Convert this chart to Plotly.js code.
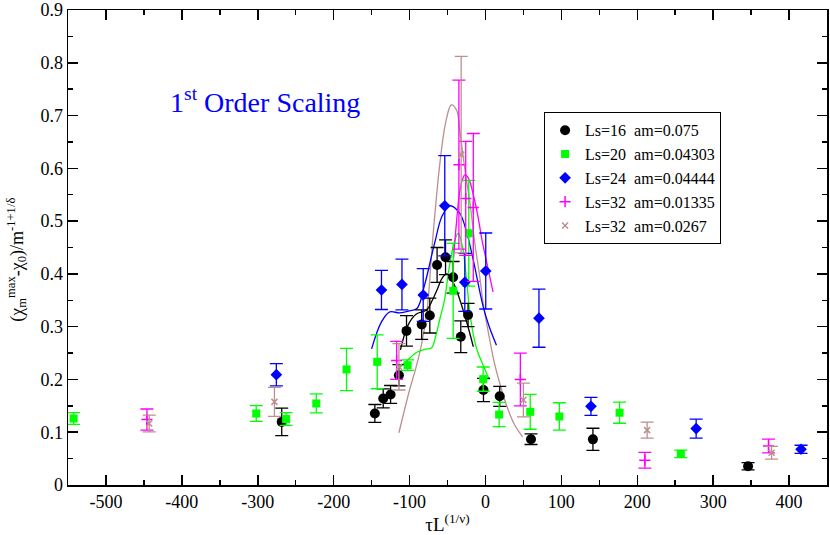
<!DOCTYPE html>
<html>
<head>
<meta charset="utf-8">
<script src="https://cdn.plot.ly/plotly-3.0.1.min.js"></script>
<style>html,body{margin:0;padding:0;background:#fff;}#plot{width:830px;height:535px;}</style>
</head>
<body>
<div id="plot"></div>
<script>
// ---- data ----
const blackX = [-268.4, -145.7, -134.7, -125, -114, -104, -84, -73.3, -63.7, -52.6, -42.6, -32.5, -22.9, -2.6, 18.8, 60, 141.6, 346];
const blackY = [0.1196, 0.1355, 0.164, 0.1715, 0.208, 0.292, 0.304, 0.321, 0.417, 0.4315, 0.3935, 0.281, 0.322, 0.180, 0.168, 0.0867, 0.0865, 0.0355];
const blackErr = [0.026, 0.017, 0.018, 0.017, 0.02, 0.029, 0.028, 0.033, 0.033, 0.033, 0.03, 0.03, 0.022, 0.022, 0.019, 0.01, 0.021, 0.007];

const greenX = [-542.6, -302, -262.6, -222.9, -183, -142.6, -102.6, -42.5, -22, -3, 18, 59, 97.4, 176.7, 257.4];
const greenY = [0.126, 0.1355, 0.125, 0.1545, 0.219, 0.2334, 0.227, 0.368, 0.477, 0.2006, 0.1335, 0.1386, 0.1298, 0.137, 0.059];
const greenErr = [0.011, 0.015, 0.012, 0.018, 0.04, 0.051, 0.01, 0.09, 0.1, 0.023, 0.023, 0.033, 0.026, 0.02, 0.007];

const blueX = [-275.5, -137, -110, -82, -53.6, -27.2, 0.4, 70.5, 139, 277.6, 415.8];
const blueY = [0.209, 0.3695, 0.38, 0.36, 0.529, 0.384, 0.4055, 0.316, 0.149, 0.107, 0.0677];
const blueErr = [0.021, 0.037, 0.048, 0.05, 0.095, 0.055, 0.072, 0.055, 0.017, 0.018, 0.0076];

const magX = [-446, -117, -35, -26, -16, 46, 210, 373];
const magY = [0.124, 0.236, 0.607, 0.543, 0.526, 0.200, 0.047, 0.074];
const magErr = [0.02, 0.036, 0.16, 0.108, 0.14, 0.05, 0.015, 0.013];

const brnX = [-443, -278, -114, -32, 50, 213, 377];
const brnY = [0.1165, 0.1575, 0.224, 0.626, 0.161, 0.104, 0.061];
const brnErr = [0.016, 0.0275, 0.044, 0.186, 0.032, 0.015, 0.012];

// fitted curves
const blackFitX = [-112, -102, -91, -78, -70, -64, -57, -51, -42, -34, -24, -16];
const blackFitY = [0.256, 0.303, 0.324, 0.331, 0.350, 0.369, 0.392, 0.400, 0.382, 0.352, 0.305, 0.262];
const greenFitX = [-115, -100, -91, -80, -71, -65, -60, -54, -48, -42, -36, -30, -25, -20, -12, -3, 5];
const greenFitY = [0.220, 0.240, 0.251, 0.257, 0.260, 0.285, 0.315, 0.350, 0.410, 0.455, 0.477, 0.450, 0.390, 0.320, 0.260, 0.227, 0.200];
const blueFitX = [-150, -137, -126, -113, -100, -90, -80, -67, -57, -47, -34, -25, -16, -3, 5, 14.5];
const blueFitY = [0.258, 0.309, 0.328, 0.326, 0.330, 0.335, 0.380, 0.458, 0.510, 0.529, 0.515, 0.480, 0.426, 0.338, 0.300, 0.265];
const magFitX = [-42, -38, -34, -30, -27, -22, -16, -10, -4, 2, 10];
const magFitY = [0.43, 0.50, 0.555, 0.580, 0.588, 0.580, 0.550, 0.510, 0.460, 0.420, 0.366];
const brnFitX = [-114, -100, -92, -84, -77, -69, -60, -52, -45, -38, -34, -27, -20, -14, -8, -3, 5, 12, 19, 28, 38, 49];
const brnFitY = [0.099, 0.18, 0.22, 0.268, 0.33, 0.474, 0.61, 0.69, 0.72, 0.71, 0.673, 0.597, 0.53, 0.458, 0.40, 0.344, 0.28, 0.23, 0.192, 0.15, 0.115, 0.091];

const names = ['Ls=16  am=0.075', 'Ls=20  am=0.04303', 'Ls=24  am=0.04444', 'Ls=32  am=0.01335', 'Ls=32  am=0.0267'];
const xTickVals = [-500, -400, -300, -200, -100, 0, 100, 200, 300, 400];
const xTickText = ['-500', '-400', '-300', '-200', '-100', '0', '100', '200', '300', '400'];

// ---- styles ----
const SERIF = 'Liberation Serif, Times New Roman, DejaVu Serif, serif';
const cBlack = '#000000', cGreen = '#00ff00', cBlue = '#0000ff', cMag = '#ff00ff', cBrn = '#bc8f8f';

function fit(x, y, c) {
  return {x: x, y: y, type: 'scatter', mode: 'lines', line: {color: c, width: 1.3, shape: 'spline', smoothing: 1}, showlegend: false, hoverinfo: 'skip'};
}
function pts(x, y, e, c, name, marker) {
  return {x: x, y: y, name: name, type: 'scatter', mode: 'markers',
    error_y: {type: 'data', array: e, visible: true, color: c, thickness: 1.3, width: 6.5},
    marker: marker};
}

const traces = [
  fit(brnFitX, brnFitY, cBrn),
  fit(blueFitX, blueFitY, cBlue),
  fit(greenFitX, greenFitY, cGreen),
  fit(magFitX, magFitY, cMag),
  fit(blackFitX, blackFitY, cBlack),
  pts(blackX, blackY, blackErr, cBlack, names[0], {symbol: 'circle', size: 10, color: cBlack}),
  pts(greenX, greenY, greenErr, cGreen, names[1], {symbol: 'square', size: 8, color: cGreen}),
  pts(blueX, blueY, blueErr, cBlue, names[2], {symbol: 'diamond', size: 9, color: cBlue}),
  pts(magX, magY, magErr, cMag, names[3], {symbol: 'cross-thin-open', size: 8, color: cMag, line: {color: cMag, width: 1.5}}),
  pts(brnX, brnY, brnErr, cBrn, names[4], {symbol: 'x-thin-open', size: 6, color: cBrn, line: {color: cBrn, width: 1.5}})
];

const axisCommon = {
  showline: true, linecolor: '#000', linewidth: 1.5, mirror: 'ticks',
  ticks: 'inside', ticklen: 10, tickwidth: 1.5, tickcolor: '#000',
  showgrid: false, zeroline: false,
  tickfont: {family: SERIF, size: 18, color: '#000'}
};

const layout = {
  width: 830, height: 535,
  margin: {l: 68, r: 3, t: 10, b: 50},
  paper_bgcolor: '#fff', plot_bgcolor: '#fff',
  font: {family: SERIF, color: '#000'},
  xaxis: Object.assign({}, axisCommon, {
    range: [-550, 450], tickmode: 'array', tickvals: xTickVals, ticktext: xTickText,
    minor: {ticks: 'inside', ticklen: 5, tickwidth: 1.5, tickcolor: '#000', dtick: 50, tick0: 0},
    title: {text: 'τL<sup>(1/ν)</sup>', font: {family: SERIF, size: 19}, standoff: 5}
  }),
  yaxis: Object.assign({}, axisCommon, {
    range: [0, 0.9], dtick: 0.1, tick0: 0,
    minor: {ticks: 'inside', ticklen: 5, tickwidth: 1.5, tickcolor: '#000', dtick: 0.05}
  }),
  legend: {
    x: 0.627, y: 0.785, xanchor: 'left', yanchor: 'top',
    bgcolor: '#fff', bordercolor: '#000', borderwidth: 1.2,
    font: {family: SERIF, size: 16, color: '#000'},
    tracegroupgap: 0, itemwidth: 30
  },
  annotations: [{
    xref: 'paper', yref: 'paper', x: 0.26, y: 0.81, xanchor: 'center', yanchor: 'middle',
    text: '1<sup>st</sup> Order Scaling', showarrow: false,
    font: {family: SERIF, size: 28, color: '#0000ff'}
  }, {
    xref: 'paper', yref: 'paper', x: -0.068, y: 0.475, xanchor: 'center', yanchor: 'middle',
    textangle: -90, showarrow: false,
    text: '(χ<sub>m</sub><sup>max</sup>-χ<sub>0</sub>)/m<sup>-1+1/δ</sup>',
    font: {family: SERIF, size: 18, color: '#000'}
  }],
  showlegend: true
};

Plotly.newPlot('plot', traces, layout, {displayModeBar: false, staticPlot: true});
</script>
</body>
</html>
